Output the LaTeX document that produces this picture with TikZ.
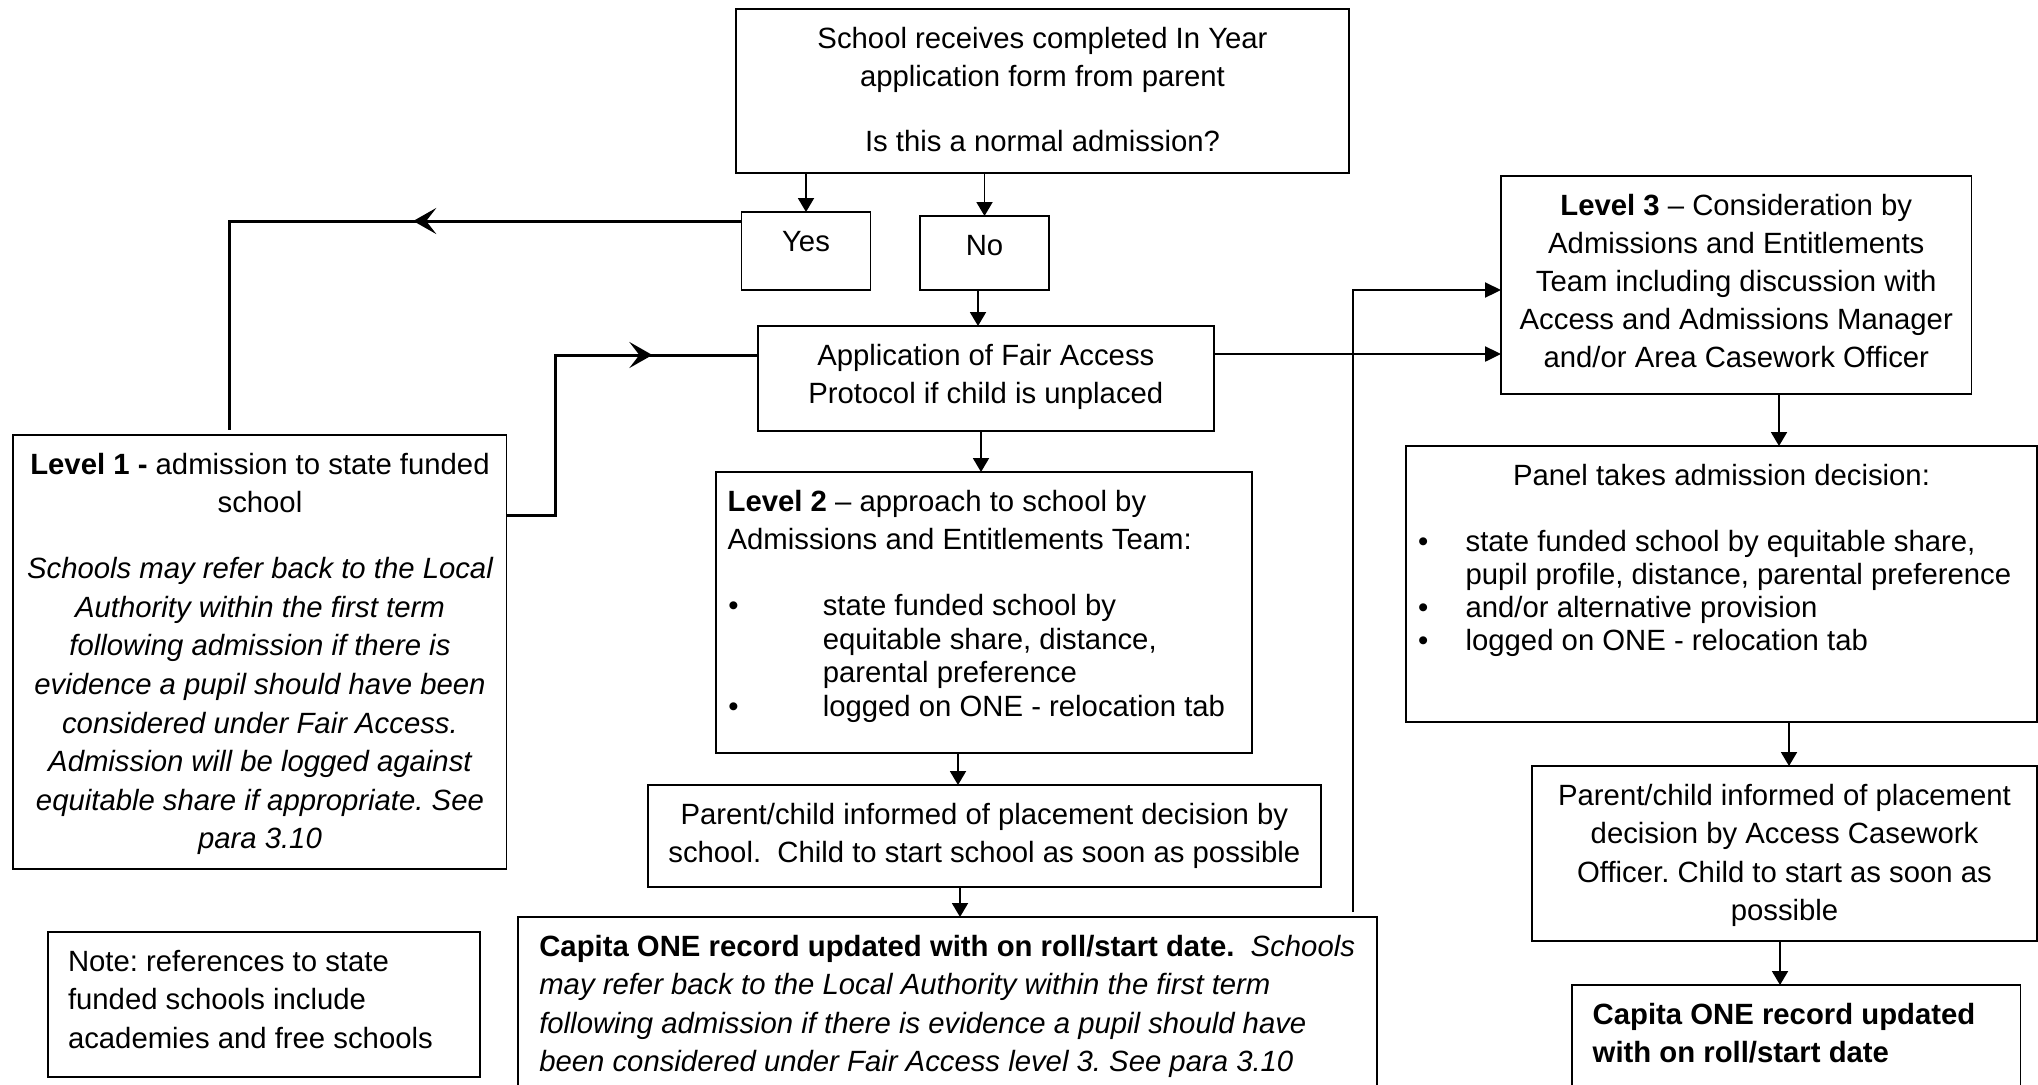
\documentclass[tikz,border=0pt]{standalone}
\usepackage{fontspec}
\setmainfont{Liberation Sans}
\usetikzlibrary{arrows.meta,decorations.markings}
\frenchspacing
\newcommand\ff{\fontsize{14.65pt}{19.3pt}\selectfont}
\newcommand\bx[4]{\begin{minipage}[c][#2][t]{#1}\ff\frenchspacing\parindent=0pt\parskip=0pt#3\relax\rule{0pt}{19.5pt}#4\end{minipage}}
\newcommand\bulA{\makebox[47.2pt][l]{\textbullet}}
\newcommand\bulB{\makebox[23.8pt][l]{\textbullet}}
\begin{document}
\begin{tikzpicture}[x=0.5pt,y=-0.5pt,
  box/.style={draw, line width=0.95pt, inner sep=0pt, outer sep=0pt},
  flow/.style={line width=0.95pt, -{Triangle[length=7pt,width=8pt]}},
  link/.style={line width=1.5pt},
  linkB/.style={line width=1.2pt, -{Triangle[length=8pt,width=7.5pt]}},
  midarrow/.style={postaction={decorate,decoration={markings,mark=at position #1 with {\arrow{Stealth[length=11.5pt,width=13pt,inset=5pt]}}}}}]
\useasboundingbox (0,0) rectangle (2038,1084);

% boxes
\node[box] (top) at (1042.5,91) {\bx{306.5pt}{82pt}{\centering}{School receives completed In Year\\application form from parent\\[13.2pt]Is this a normal admission?}};
\node[box] (yes) at (806,251) {\bx{64.5pt}{39pt}{\centering}{Yes}};
\node[box] (no) at (984.5,253) {\bx{64.5pt}{37pt}{\centering}{No}};
\node[box] (fap) at (985.8,378.5) {\bx{228.2pt}{52.5pt}{\centering}{Application of Fair Access\\[-0.3pt]Protocol if child is unplaced}};
\node[box] (l1) at (259.95,652) {\bx{246.55pt}{217pt}{\centering}{\textbf{Level 1 -} admission to state funded\\school\\[13.7pt]\itshape Schools may refer back to the Local\\Authority within the first term\\following admission if there is\\evidence a pupil should have been\\considered under Fair Access.\\Admission will be logged against\\equitable share if appropriate. See\\para 3.10}};
\node[box] (l2) at (983.8,612.5) {\bx{268.2pt}{140.5pt}{\raggedright\leftskip=6pt}{\textbf{Level 2} -- approach to school by\\Admissions and Entitlements Team:\\[13.7pt]\hspace*{0.4pt}\bulA state funded school by\\[-2.47pt]\hspace*{47.6pt}equitable share, distance,\\[-2.47pt]\hspace*{47.6pt}parental preference\\[-2.47pt]\hspace*{0.4pt}\bulA logged on ONE - relocation tab}};
\node[box] (pcl) at (984.3,836) {\bx{336.3pt}{51pt}{\centering}{Parent/child informed of placement decision by\\[-0.2pt]school.\ \ Child to start school as soon as possible}};
\node[box] (capl) at (947.65,1001.5) {\bx{429.35pt}{84.5pt}{\raggedright\leftskip=10.5pt}{{\bfseries Capita ONE record updated with on roll/start date.}\ \ \itshape Schools\\may refer back to the Local Authority within the first term\\following admission if there is evidence a pupil should have\\been considered under Fair Access level 3. See para 3.10}};
\node[box] (l3) at (1736.25,285) {\bx{235.25pt}{109pt}{\centering}{\textbf{Level 3} -- Consideration by\\[-0.25pt]Admissions and Entitlements\\[-0.25pt]Team including discussion with\\[-0.25pt]Access and Admissions Manager\\[-0.25pt]and/or Area Casework Officer}};
\node[box] (panel) at (1721.5,584) {\bx{315.5pt}{138pt}{}{{\centering Panel takes admission decision:\par}\vspace{14.05pt}{\raggedright\hspace*{6pt}\bulB state funded school by equitable share,\\[-2.9pt]\hspace*{29.8pt}pupil profile, distance, parental preference\\[-2.9pt]\hspace*{6pt}\bulB and/or alternative provision\\[-2.9pt]\hspace*{6pt}\bulB logged on ONE - relocation tab\par}}};
\node[box] (pcr) at (1784.5,853.5) {\bx{252.5pt}{87.5pt}{\centering}{Parent/child informed of placement\\decision by Access Casework\\Officer. Child to start as soon as\\possible}};
\node[box] (capr) at (1796.25,1035.5) {\bx{224.25pt}{50.5pt}{\raggedright\leftskip=10.35pt}{\bfseries Capita ONE record updated\\with on roll/start date}};
\node[box] (note) at (263.85,1004.5) {\bx{216.15pt}{72.5pt}{\raggedright\leftskip=10.15pt}{Note: references to state\\funded schools include\\academies and free schools}};

% helper coordinates
\coordinate (y221) at (0,221);
\coordinate (y290) at (0,290);
\coordinate (y354) at (0,354);
\coordinate (y355) at (0,355);
\coordinate (y515) at (0,515);
\coordinate (x958) at (958,0);
\coordinate (x960) at (960,0);
\coordinate (x978) at (978,0);
\coordinate (x981) at (981,0);
\coordinate (x1779) at (1779,0);
\coordinate (x1780) at (1780,0);
\coordinate (x1789) at (1789,0);
\coordinate (l1in) at (229,430);
\coordinate (k1) at (555,515);
\coordinate (vb) at (1353,912);

% flow arrows
\draw[flow] (top.south -| yes) -- (yes.north);
\draw[flow] (top.south -| no) -- (no.north);
\draw[flow] (no.south -| x978) -- (fap.north -| x978);
\draw[flow] (fap.south -| x981) -- (l2.north -| x981);
\draw[flow] (l2.south -| x958) -- (pcl.north -| x958);
\draw[flow] (pcl.south -| x960) -- (capl.north -| x960);
\draw[flow] (l3.south -| x1779) -- (panel.north -| x1779);
\draw[flow] (panel.south -| x1789) -- (pcr.north -| x1789);
\draw[flow] (pcr.south -| x1780) -- (capr.north -| x1780);

% links
\draw[link, midarrow=0.455] (yes.west |- y221) -| (l1in);
\draw[link, midarrow=0.744] (l1.east |- y515) -- (k1) |- (fap.west |- y355);
\draw[linkB] (fap.east |- y354) -- (l3.west |- y354);
\draw[linkB, line width=1.05pt] (vb) |- (l3.west |- y290);
\end{tikzpicture}
\end{document}
